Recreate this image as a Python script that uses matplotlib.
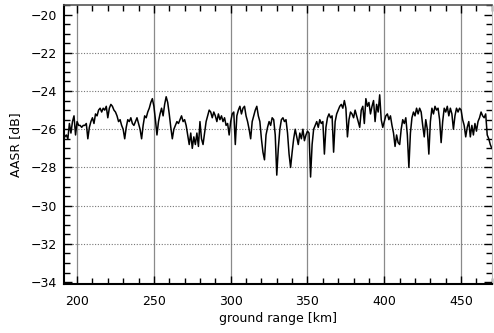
import numpy as np
import matplotlib.pyplot as plt
from matplotlib.ticker import MultipleLocator

# ground range samples [km] and AASR values [dB]
ground_range = np.arange(192, 471)

aasr = [
    -26.4, -26.3, -26.5, -25.7, -26.2, -25.6, -25.3, -26.3,
    -25.6, -25.8, -25.8, -25.9, -25.8, -25.8, -25.7, -26.5, -25.9, -25.6,
    -25.4, -25.7, -25.2, -25.3, -25.0, -24.9, -25.1, -24.9, -25.0, -24.8,
    -25.4, -24.9, -24.7, -24.8, -25.0, -25.1, -25.3, -25.6, -25.5, -25.8,
    -26.0, -26.5, -25.9, -25.5, -25.6, -25.4, -25.7, -25.8, -25.6, -25.4,
    -25.7, -26.0, -26.5, -25.8, -25.3, -25.4, -25.1, -24.9, -24.6, -24.4,
    -24.8, -25.5, -26.3, -25.6, -25.2, -24.9, -25.3, -24.7, -24.3, -24.6,
    -25.2, -25.9, -26.5, -26.0, -25.8, -25.6, -25.7, -25.5, -25.3, -25.6,
    -25.5, -25.8, -26.3, -26.8, -26.2, -27.0, -26.4, -26.8, -26.2, -26.9,
    -25.6, -26.5, -26.8, -26.2, -25.6, -25.3, -25.0, -25.1, -25.4, -25.1,
    -25.3, -25.6, -25.2, -25.5, -25.3, -25.6, -25.4, -25.8, -25.7, -26.3,
    -25.6, -25.2, -25.1, -26.8, -25.3, -25.0, -24.8, -25.2, -24.9, -24.8,
    -25.3, -25.6, -26.0, -26.5, -25.6, -25.3, -25.0, -24.8, -25.3, -25.6,
    -26.5, -27.2, -27.6, -26.3, -25.9, -25.6, -25.8, -25.4, -25.5, -26.3,
    -28.4, -27.0, -26.0, -25.5, -25.4, -25.6, -25.5, -26.2, -27.3, -28.0,
    -27.2, -26.5, -26.0, -26.4, -26.8, -26.2, -26.5, -26.0, -26.6, -26.3,
    -26.1, -26.2, -28.5, -26.8, -26.0, -25.8, -25.6, -25.9, -25.5, -25.7,
    -25.6, -27.3, -25.9, -25.4, -25.2, -25.4, -25.3, -27.2, -25.6, -25.2,
    -25.0, -24.8, -24.7, -24.9, -24.5, -24.9, -26.4, -25.5, -25.1, -25.2,
    -25.4, -25.0, -25.3, -25.6, -25.9, -25.0, -24.8, -25.7, -24.4, -24.8,
    -24.6, -25.2, -24.8, -24.5, -25.6, -24.7, -25.1, -24.2, -25.5, -25.9,
    -25.6, -25.3, -25.2, -25.5, -25.3, -25.8, -26.2, -26.9, -26.3, -26.7,
    -26.8, -26.0, -25.5, -25.7, -25.4, -26.3, -28.0, -26.2, -25.4, -25.1,
    -25.3, -24.9, -25.2, -24.9, -25.1, -25.8, -26.4, -25.5, -26.0, -27.3,
    -25.6, -24.9, -25.2, -24.8, -25.0, -24.9, -25.5, -26.7, -25.6, -24.9,
    -25.1, -24.8, -25.3, -24.9, -25.2, -26.0, -25.3, -24.9, -25.1, -24.9,
    -25.0, -25.5, -25.8, -26.4, -25.9, -25.6, -26.4, -25.8, -26.3, -25.7,
    -26.1, -25.6, -25.4, -25.1, -25.3, -25.4, -25.2, -26.3, -26.5, -26.8,
    -27.0,
]

x_ticks = [200, 250, 300, 350, 400, 450]
y_ticks = [-34, -32, -30, -28, -26, -24, -22, -20]

fig = plt.figure(figsize=(4.94, 3.33), dpi=100)
ax = fig.add_axes([0.1296, 0.147, 0.866, 0.838])

ax.plot(ground_range, aasr, color="black", lw=1.1)

ax.set_xlim(191.5, 470)
ax.set_ylim(-34.1, -19.5)
ax.set_xticks(x_ticks)
ax.set_yticks(y_ticks)
ax.set_yticklabels([f"\u2212{abs(v)}" for v in y_ticks])
ax.xaxis.set_minor_locator(MultipleLocator(10))
ax.yaxis.set_minor_locator(MultipleLocator(0.5))

# vertical solid grid, horizontal dotted grid
for xv in x_ticks:
    ax.axvline(xv, color="#8a8a8a", lw=0.9, zorder=0)
for yv in y_ticks[1:-1]:
    ax.axhline(yv, color="#777777", lw=0.8, ls=(0, (1, 1.5)), zorder=0)

ax.tick_params(which="both", direction="in", top=True, right=True,
               labelsize=9)
ax.tick_params(axis="x", pad=8)
ax.tick_params(axis="y", pad=5)
ax.tick_params(which="major", length=6, width=1)
ax.tick_params(which="minor", length=4, width=1)

for side in ["left", "bottom"]:
    ax.spines[side].set_linewidth(1.5)
ax.spines["top"].set_linewidth(1.2)
ax.spines["top"].set_color("#555555")
ax.spines["right"].set_linewidth(0.8)
ax.spines["right"].set_color("#bbbbbb")

ax.set_xlabel("ground range [km]", fontsize=9, labelpad=3)
ax.set_ylabel("AASR [dB]", fontsize=9, labelpad=6)

fig.savefig("out.png", dpi=100)
